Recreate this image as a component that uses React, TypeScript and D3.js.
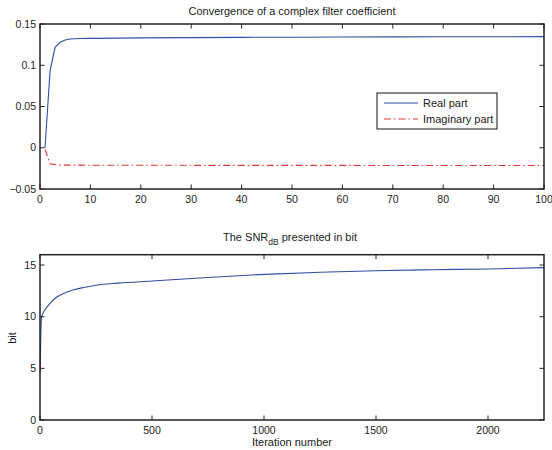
import React, { useEffect, useRef } from "react";
import * as d3 from "d3";

// top panel: coefficient convergence
const coefIter = [1, 2, 3, 4, 5, 6, 7, 8, 10, 15, 20, 30, 40, 50, 60, 70, 80, 90, 100];
const realPart = [0, 0.0935, 0.1217, 0.1278, 0.1307, 0.1318, 0.1322, 0.1324, 0.1326, 0.1329, 0.1332, 0.1335, 0.1338, 0.134, 0.1342, 0.1344, 0.1345, 0.1346, 0.1347];
const imagPart = [-0.002, -0.0195, -0.0205, -0.0208, -0.021, -0.021, -0.0211, -0.0211, -0.0212, -0.0212, -0.0213, -0.0213, -0.0214, -0.0214, -0.0214, -0.0215, -0.0215, -0.0215, -0.0215];
const topXTicks = [0, 10, 20, 30, 40, 50, 60, 70, 80, 90, 100];
const topYTicks = [-0.05, 0, 0.05, 0.1, 0.15];

// bottom panel: SNR in bits
const snrIter = [1, 2, 3, 4, 5, 6, 8, 15, 30, 50, 75, 100, 150, 200, 250, 350, 500, 750, 1000, 1250, 1500, 1750, 2000, 2250];
const snrBits = [4.6, 6.2, 7.5, 8.6, 9.3, 9.7, 10.0, 10.4, 10.9, 11.4, 11.9, 12.2, 12.6, 12.85, 13.05, 13.25, 13.45, 13.8, 14.1, 14.3, 14.45, 14.55, 14.62, 14.75];
const botXTicks = [0, 500, 1000, 1500, 2000];
const botYTicks = [0, 5, 10, 15];

const FONT = "'Liberation Sans', Arial, Helvetica, sans-serif";

function App() {
  const svgRef = useRef(null);

  useEffect(() => {
    const svg = d3.select(svgRef.current);
    svg.selectAll("*").remove();

    const left = 40;
    const right = 544;

    function frame(x, y, xTicks, yTicks, fmtY) {
      const g = svg.append("g");
      const [x0, x1] = x.range();
      const [y0, y1] = y.range(); // y0 bottom, y1 top
      const tick = 4.5;
      xTicks.forEach((t) => {
        g.append("line").attr("x1", x(t)).attr("x2", x(t)).attr("y1", y0).attr("y2", y0 - tick).attr("stroke", "#222");
        g.append("line").attr("x1", x(t)).attr("x2", x(t)).attr("y1", y1).attr("y2", y1 + tick).attr("stroke", "#222");
        g.append("text").attr("x", x(t)).attr("y", y0 + 14).attr("text-anchor", "middle")
          .style("font-family", FONT).style("font-size", "10.5px").attr("fill", "#222").text(t);
      });
      yTicks.forEach((t) => {
        g.append("line").attr("x1", x0).attr("x2", x0 + tick).attr("y1", y(t)).attr("y2", y(t)).attr("stroke", "#222");
        g.append("line").attr("x1", x1).attr("x2", x1 - tick).attr("y1", y(t)).attr("y2", y(t)).attr("stroke", "#222");
        g.append("text").attr("x", x0 - 4).attr("y", y(t) + 3.5).attr("text-anchor", "end")
          .style("font-family", FONT).style("font-size", "10.5px").attr("fill", "#222").text(fmtY(t));
      });
      g.append("rect").attr("x", x0).attr("y", y1).attr("width", x1 - x0).attr("height", y0 - y1)
        .attr("fill", "none").attr("stroke", "#222").attr("stroke-width", 1.5);
    }

    // ---- top panel
    const xTop = d3.scaleLinear().domain([0, 100]).range([left, right]);
    const yTop = d3.scaleLinear().domain([-0.05, 0.15]).range([189, 24]);

    const lineTop = (vals) =>
      d3.line().x((d, i) => xTop(coefIter[i])).y((d) => yTop(d))(vals);

    svg.append("path").attr("d", lineTop(realPart)).attr("fill", "none")
      .attr("stroke", "#2f4fa5").attr("stroke-width", 1.1);
    svg.append("path").attr("d", lineTop(imagPart)).attr("fill", "none")
      .attr("stroke", "#e03434").attr("stroke-width", 1.1).attr("stroke-dasharray", "7,3,1.5,3");

    frame(xTop, yTop, topXTicks, topYTicks, (t) => (t < 0 ? "\u22120.05" : d3.format("")(+t.toFixed(2))));

    svg.append("text").attr("x", 292).attr("y", 15).attr("text-anchor", "middle")
      .style("font-family", FONT).style("font-size", "11px").attr("fill", "#222")
      .text("Convergence of a complex filter coefficient");

    // legend
    const lg = svg.append("g");
    lg.append("rect").attr("x", 377).attr("y", 93).attr("width", 120).attr("height", 36)
      .attr("fill", "white").attr("stroke", "#111").attr("stroke-width", 1);
    lg.append("line").attr("x1", 384).attr("x2", 418).attr("y1", 103).attr("y2", 103)
      .attr("stroke", "#2f4fa5").attr("stroke-width", 1.1);
    lg.append("line").attr("x1", 384).attr("x2", 418).attr("y1", 119).attr("y2", 119)
      .attr("stroke", "#e03434").attr("stroke-width", 1.1).attr("stroke-dasharray", "7,3,1.5,3");
    lg.append("text").attr("x", 423).attr("y", 107).style("font-family", FONT).style("font-size", "11px")
      .attr("fill", "#222").text("Real part");
    lg.append("text").attr("x", 423).attr("y", 123).style("font-family", FONT).style("font-size", "11px")
      .attr("fill", "#222").text("Imaginary part");

    // ---- bottom panel
    const xBot = d3.scaleLinear().domain([0, 2250]).range([left, right]);
    const yBot = d3.scaleLinear().domain([0, 16]).range([420, 254.7]);

    const lineBot = d3.line()
      .x((d, i) => xBot(snrIter[i]))
      .y((d) => yBot(d))
      .curve(d3.curveMonotoneX);

    svg.append("path").attr("d", lineBot(snrBits)).attr("fill", "none")
      .attr("stroke", "#2f4fa5").attr("stroke-width", 1.1);

    frame(xBot, yBot, botXTicks, botYTicks, (t) => String(t));

    const title = svg.append("text").attr("x", 290).attr("y", 241).attr("text-anchor", "middle")
      .style("font-family", FONT).style("font-size", "11px").attr("fill", "#222");
    title.append("tspan").text("The SNR");
    title.append("tspan").attr("dy", 4).style("font-size", "8.5px").text("dB");
    title.append("tspan").attr("dy", -4).text(" presented in bit");

    svg.append("text").attr("x", 292).attr("y", 446).attr("text-anchor", "middle")
      .style("font-family", FONT).style("font-size", "11px").attr("fill", "#222").text("Iteration number");

    svg.append("text").attr("transform", "translate(16,338) rotate(-90)").attr("text-anchor", "middle")
      .style("font-family", FONT).style("font-size", "11px").attr("fill", "#222").text("bit");
  }, []);

  return (
    <div style={{ position: "absolute", left: 0, top: 0 }}>
      <svg ref={svgRef} width={552} height={450} style={{ display: "block", background: "white" }}></svg>
    </div>
  );
}

export default App;
